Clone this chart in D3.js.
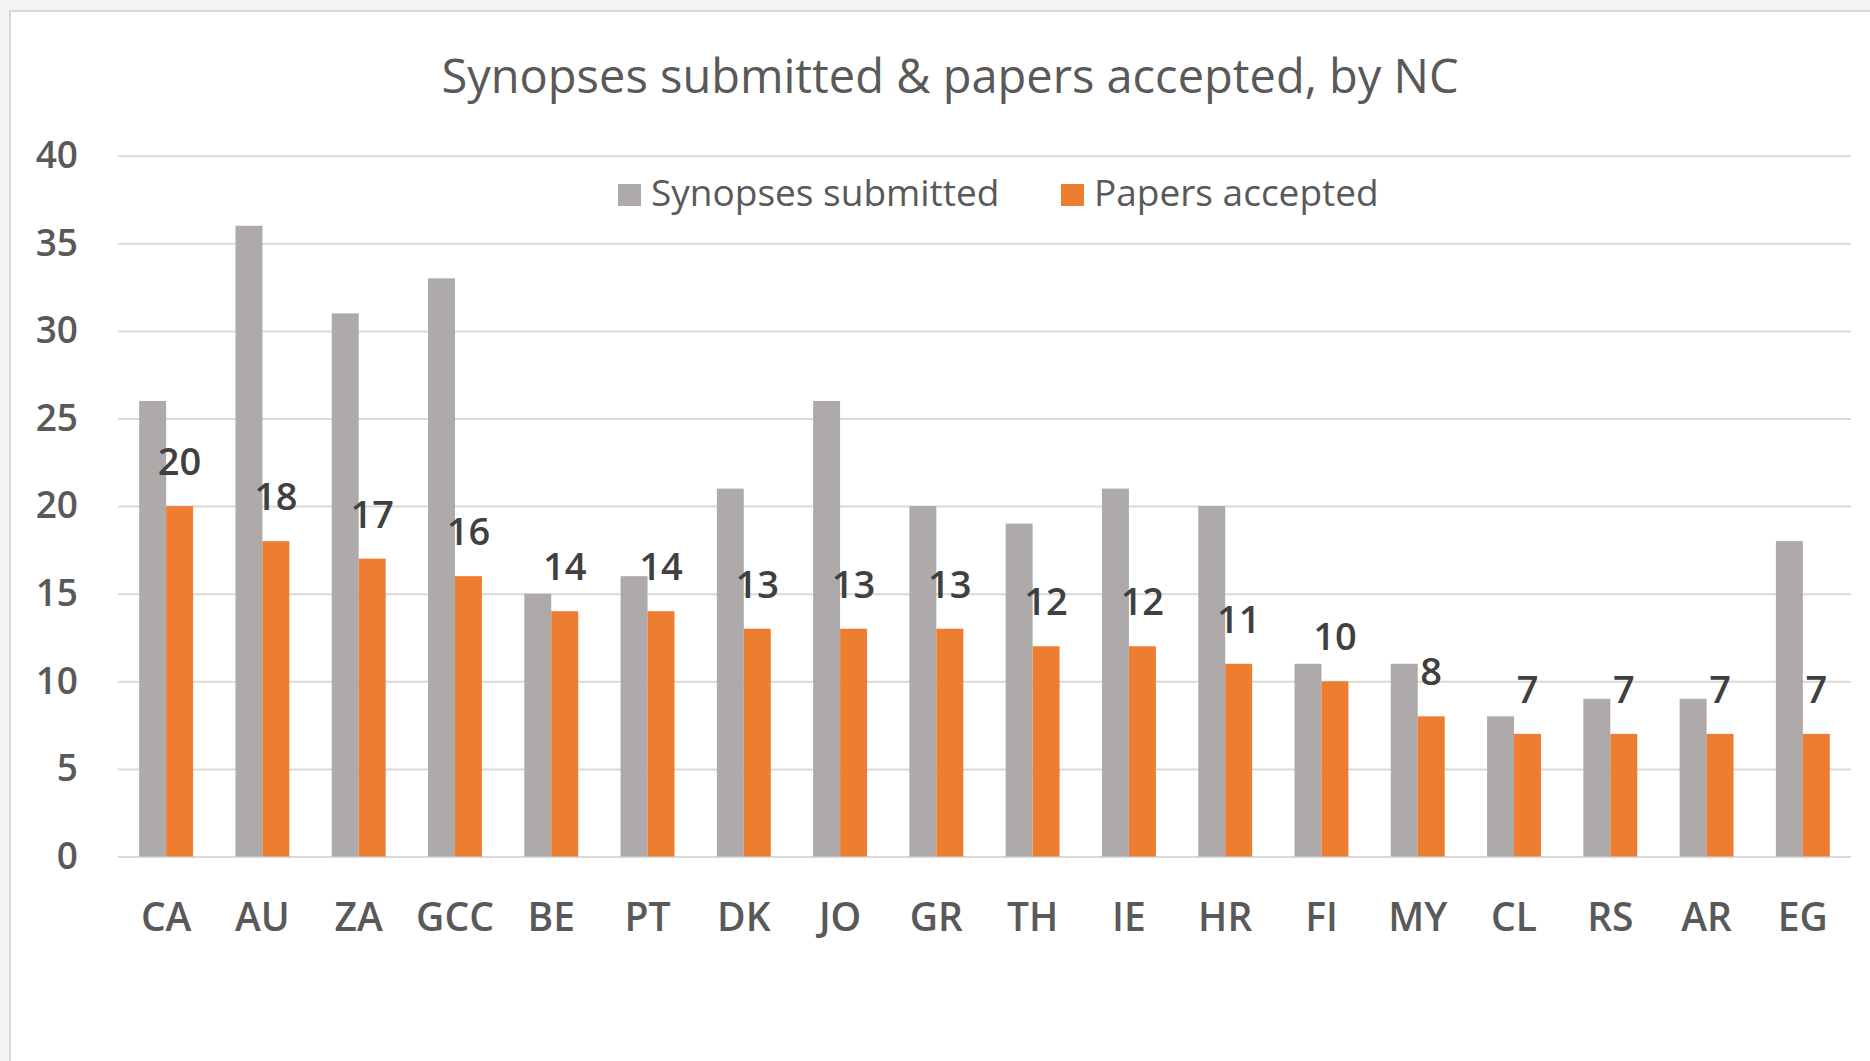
<!DOCTYPE html>
<html>
<head>
<meta charset="utf-8">
<script src="https://cdn.jsdelivr.net/npm/d3@7"></script>
<style>
  body { margin: 0; background: #f3f3f3; }
  text { font-family: 'Open Sans', sans-serif; }
  .grid line { stroke: #d9d9d9; stroke-width: 2; }
  .grid .domain { display: none; }
  .axis .domain { display: none; }
  .axis text { fill: #595959; font-weight: 600; }
</style>
</head>
<body>
<div id="chart"></div>
<script>
var categories = ['CA', 'AU', 'ZA', 'GCC', 'BE', 'PT', 'DK', 'JO', 'GR', 'TH', 'IE', 'HR', 'FI', 'MY', 'CL', 'RS', 'AR', 'EG'];
var synopses = [26, 36, 31, 33, 15, 16, 21, 26, 20, 19, 21, 20, 11, 11, 8, 9, 9, 18];
var papers = [20, 18, 17, 16, 14, 14, 13, 13, 13, 12, 12, 11, 10, 8, 7, 7, 7, 7];
var seriesNames = ['Synopses submitted', 'Papers accepted'];
var yTicks = [0, 5, 10, 15, 20, 25, 30, 35, 40];

var width = 1870, height = 1061;
var plot = {left: 118, right: 1851, top: 155.7, bottom: 856.5};

var svg = d3.select('#chart').append('svg')
    .attr('width', width)
    .attr('height', height);

// chart frame
svg.append('rect')
    .attr('x', 10).attr('y', 11)
    .attr('width', width).attr('height', height)
    .attr('fill', '#fff')
    .attr('stroke', '#d6d6d6')
    .attr('stroke-width', 2);

var x0 = d3.scaleBand()
        .domain(categories)
        .range([plot.left, plot.right])
        .paddingInner(0.44)
        .paddingOuter(0.22),
    x1 = d3.scaleBand()
        .domain(seriesNames)
        .range([0, x0.bandwidth()]),
    y = d3.scaleLinear()
        .domain([0, 40])
        .range([plot.bottom, plot.top]),
    color = d3.scaleOrdinal()
        .domain(seriesNames)
        .range(['#aeaaaa', '#ed7d31']);

var rows = categories.map(function(c, i) {
  return {cat: c, values: [synopses[i], papers[i]]};
});

// gridlines
svg.append('g')
    .attr('class', 'grid')
    .attr('transform', 'translate(' + plot.left + ',0)')
    .call(d3.axisLeft(y).tickValues(yTicks).tickSize(-(plot.right - plot.left)).tickFormat(''));

// y axis labels
svg.append('g')
    .attr('class', 'axis')
    .attr('transform', 'translate(' + plot.left + ',0)')
    .call(d3.axisLeft(y).tickValues(yTicks).tickSize(0).tickPadding(40))
    .call(function(g) { g.selectAll('text').style('font-size', '37px'); });

// bars
var groups = svg.selectAll('.group')
    .data(rows)
    .enter().append('g')
    .attr('class', 'group')
    .attr('transform', function(d) { return 'translate(' + x0(d.cat) + ',0)'; });

groups.selectAll('rect')
    .data(function(d) { return d.values.map(function(v, j) { return {key: seriesNames[j], value: v}; }); })
    .enter().append('rect')
    .attr('x', function(d) { return x1(d.key); })
    .attr('y', function(d) { return y(d.value); })
    .attr('width', x1.bandwidth())
    .attr('height', function(d) { return y(0) - y(d.value); })
    .attr('fill', function(d) { return color(d.key); });

// labels for papers accepted
groups.append('text')
    .attr('x', x1('Papers accepted') + x1.bandwidth() / 2)
    .attr('y', function(d) { return y(d.values[1]) - 31; })
    .attr('text-anchor', 'middle')
    .style('font-size', '38px')
    .style('font-weight', 600)
    .style('fill', '#404040')
    .text(function(d) { return d.values[1]; });

// x axis
svg.append('g')
    .attr('class', 'axis')
    .attr('transform', 'translate(0,' + plot.bottom + ')')
    .call(d3.axisBottom(x0).tickSize(0))
    .call(function(g) {
      g.selectAll('text').attr('dy', null).attr('y', 74.5).style('font-size', '39px');
    });

// title
svg.append('text')
    .attr('x', 950)
    .attr('y', 93)
    .attr('text-anchor', 'middle')
    .style('font-size', '47px')
    .style('fill', '#595959')
    .text('Synopses submitted & papers accepted, by NC');

// legend
var legendX = [618, 1061];
var legend = svg.selectAll('.legend')
    .data(seriesNames)
    .enter().append('g')
    .attr('class', 'legend')
    .attr('transform', function(d, i) { return 'translate(' + legendX[i] + ',0)'; });

legend.append('rect')
    .attr('x', 0).attr('y', 184)
    .attr('width', 23).attr('height', 22)
    .attr('fill', function(d) { return color(d); });

legend.append('text')
    .attr('x', 33)
    .attr('y', 206)
    .style('font-size', '37px')
    .style('fill', '#595959')
    .text(function(d) { return d; });
</script>
</body>
</html>
